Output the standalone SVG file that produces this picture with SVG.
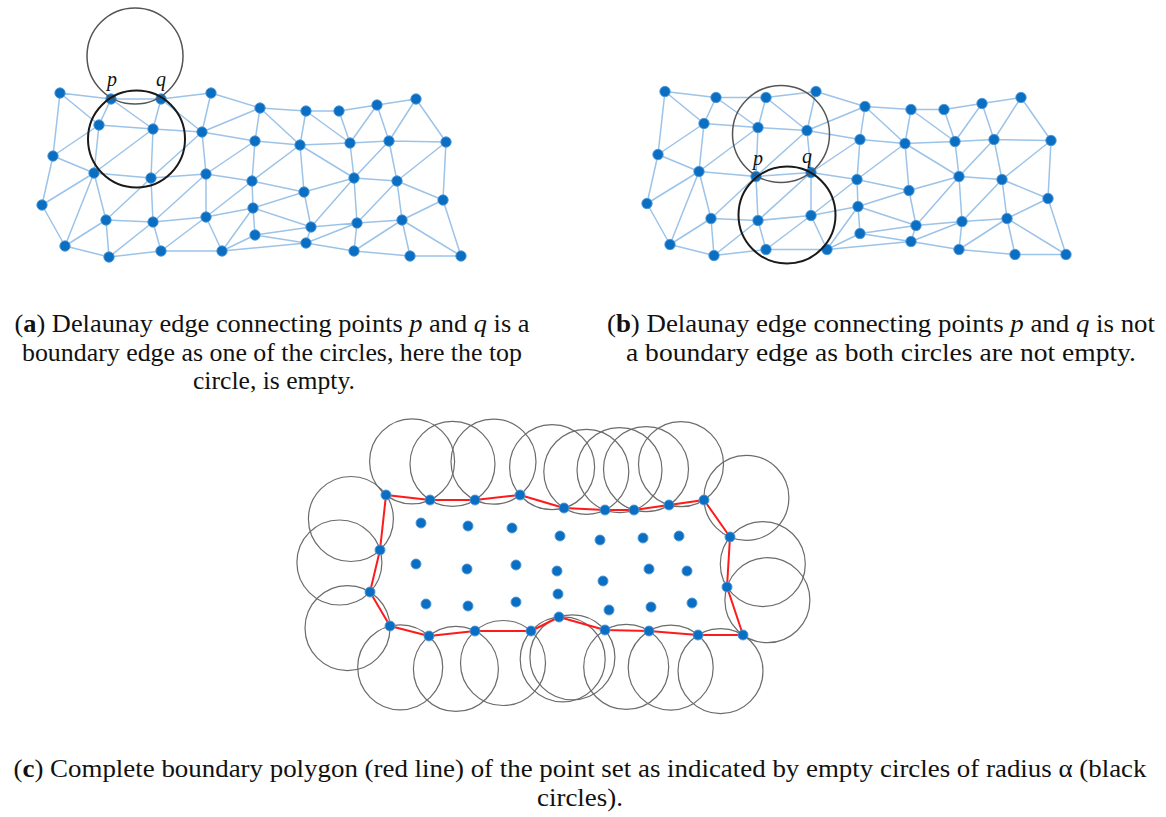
<svg xmlns="http://www.w3.org/2000/svg" width="1166" height="817" viewBox="0 0 1166 817">
<style>
.bg{fill:#ffffff}
.e{stroke:#9cc3e8;stroke-width:1.5;fill:none;stroke-linecap:round}
.n{fill:#0a6fc2;stroke:#4f98d8;stroke-width:0.9}
.ring{fill:none;stroke:#555555;stroke-width:1.5}
.ring2{fill:none;stroke:#1a1a1a;stroke-width:2}
.ac{fill:none;stroke:#6b6b6b;stroke-width:1.2}
.red{fill:none;stroke:#ff1a1a;stroke-width:2;stroke-linejoin:round}
.lbl{font-family:"Liberation Serif","Times New Roman",serif;font-style:italic;font-size:20px;fill:#111}
.cap{font-family:"Liberation Serif","Times New Roman",serif;font-size:25px;fill:#111;text-anchor:middle}
.b{font-weight:bold}
.i{font-style:italic}
</style>
<rect class="bg" x="0" y="0" width="1166" height="817"/>

<!-- ===== Panel (a) ===== -->
<g id="panel-a">
<g id="a-connectors">
<path class="e" d="M60 93L111 99M60 93L99 125M60 93L53 156M111 99L161 99M111 99L99 125M111 99L153 129M161 99L153 129M161 99L211 93M161 99L202 132M211 93L202 132M211 93L260 108M99 125L153 129M99 125L53 156M99 125L94 173M153 129L202 132M153 129L94 173M153 129L151 178M202 132L255 141M202 132L260 108M202 132L151 178M202 132L206 174M53 156L94 173M53 156L42 205M94 173L151 178M94 173L42 205M94 173L65 246M94 173L106 220M151 178L206 174M151 178L106 220M151 178L153 222M206 174L255 141M206 174L252 181M206 174L153 222M206 174L206 217M42 205L65 246M106 220L153 222M106 220L65 246M106 220L109 257M153 222L109 257M153 222L161 251M153 222L206 217M206 217L161 251M206 217L222 251M206 217L253 208M65 246L109 257M109 257L161 251M161 251L222 251M252 181L206 217M253 208L222 251M222 251L255 235M222 251L306 243"/>
<path class="e" d="M260 108L306 111M260 108L255 141M260 108L300 145M306 111L339 111M306 111L300 145M306 111L350 143M339 111L350 143M339 111L377 105M377 105L350 143M377 105L416 99M377 105L389 141M416 99L389 141M416 99L446 142M255 141L300 145M300 145L350 143M350 143L389 141M389 141L446 142M255 141L252 181M300 145L252 181M300 145L304 192M300 145L354 178M350 143L354 178M389 141L354 178M389 141L397 181M446 142L397 181M446 142L443 200M252 181L304 192M304 192L354 178M354 178L397 181M397 181L443 200M252 181L253 208M304 192L253 208M304 192L311 227M354 178L311 227M354 178L357 223M397 181L357 223M397 181L402 220M443 200L402 220M443 200L461 256M253 208L311 227M253 208L255 235M311 227L357 223M357 223L402 220M311 227L255 235M311 227L306 243M357 223L306 243M357 223L354 251M402 220L354 251M402 220L410 256M402 220L461 256M255 235L306 243M306 243L354 251M354 251L410 256M410 256L461 256"/>
</g>
<g id="a-nodes">
<g id="a-A1"><circle class="n" cx="60" cy="93" r="5.2"/></g>
<g id="a-A2"><circle class="n" cx="111" cy="99" r="5.2"/></g>
<g id="a-A3"><circle class="n" cx="161" cy="99" r="5.2"/></g>
<g id="a-A4"><circle class="n" cx="211" cy="93" r="5.2"/></g>
<g id="a-A5"><circle class="n" cx="260" cy="108" r="5.2"/></g>
<g id="a-A6"><circle class="n" cx="306" cy="111" r="5.2"/></g>
<g id="a-A7"><circle class="n" cx="339" cy="111" r="5.2"/></g>
<g id="a-A8"><circle class="n" cx="377" cy="105" r="5.2"/></g>
<g id="a-A9"><circle class="n" cx="416" cy="99" r="5.2"/></g>
<g id="a-B1"><circle class="n" cx="99" cy="125" r="5.2"/></g>
<g id="a-B2"><circle class="n" cx="153" cy="129" r="5.2"/></g>
<g id="a-B3"><circle class="n" cx="202" cy="132" r="5.2"/></g>
<g id="a-B4"><circle class="n" cx="255" cy="141" r="5.2"/></g>
<g id="a-B5"><circle class="n" cx="300" cy="145" r="5.2"/></g>
<g id="a-B6"><circle class="n" cx="350" cy="143" r="5.2"/></g>
<g id="a-B7"><circle class="n" cx="389" cy="141" r="5.2"/></g>
<g id="a-B8"><circle class="n" cx="446" cy="142" r="5.2"/></g>
<g id="a-C1"><circle class="n" cx="53" cy="156" r="5.2"/></g>
<g id="a-C2"><circle class="n" cx="94" cy="173" r="5.2"/></g>
<g id="a-C3"><circle class="n" cx="151" cy="178" r="5.2"/></g>
<g id="a-C4"><circle class="n" cx="206" cy="174" r="5.2"/></g>
<g id="a-C5"><circle class="n" cx="252" cy="181" r="5.2"/></g>
<g id="a-C6"><circle class="n" cx="304" cy="192" r="5.2"/></g>
<g id="a-C7"><circle class="n" cx="354" cy="178" r="5.2"/></g>
<g id="a-C8"><circle class="n" cx="397" cy="181" r="5.2"/></g>
<g id="a-C9"><circle class="n" cx="443" cy="200" r="5.2"/></g>
<g id="a-D1"><circle class="n" cx="42" cy="205" r="5.2"/></g>
<g id="a-D2"><circle class="n" cx="106" cy="220" r="5.2"/></g>
<g id="a-D3"><circle class="n" cx="153" cy="222" r="5.2"/></g>
<g id="a-D4"><circle class="n" cx="206" cy="217" r="5.2"/></g>
<g id="a-D5"><circle class="n" cx="253" cy="208" r="5.2"/></g>
<g id="a-D6"><circle class="n" cx="311" cy="227" r="5.2"/></g>
<g id="a-D7"><circle class="n" cx="357" cy="223" r="5.2"/></g>
<g id="a-D8"><circle class="n" cx="402" cy="220" r="5.2"/></g>
<g id="a-E1"><circle class="n" cx="65" cy="246" r="5.2"/></g>
<g id="a-E2"><circle class="n" cx="109" cy="257" r="5.2"/></g>
<g id="a-E3"><circle class="n" cx="161" cy="251" r="5.2"/></g>
<g id="a-E4"><circle class="n" cx="222" cy="251" r="5.2"/></g>
<g id="a-E5"><circle class="n" cx="255" cy="235" r="5.2"/></g>
<g id="a-E6"><circle class="n" cx="306" cy="243" r="5.2"/></g>
<g id="a-E7"><circle class="n" cx="354" cy="251" r="5.2"/></g>
<g id="a-E8"><circle class="n" cx="410" cy="256" r="5.2"/></g>
<g id="a-E9"><circle class="n" cx="461" cy="256" r="5.2"/></g>
</g>
<g id="a-circles">
<circle class="ring" cx="135" cy="56" r="48"/>
<circle class="ring2" cx="136.5" cy="139" r="48.5"/>
</g>
<text class="lbl" x="112" y="86" text-anchor="middle">p</text>
<text class="lbl" x="161" y="86" text-anchor="middle">q</text>
</g>

<!-- ===== Panel (b) ===== -->
<g id="panel-b">
<g transform="translate(605,-1.5)">
<g id="b-connectors">
<path class="e" d="M60 93L111 99M60 93L99 125M60 93L53 156M111 99L161 99M111 99L99 125M111 99L153 129M161 99L153 129M161 99L211 93M161 99L202 132M211 93L202 132M211 93L260 108M99 125L153 129M99 125L53 156M99 125L94 173M153 129L202 132M153 129L94 173M153 129L151 178M202 132L255 141M202 132L260 108M202 132L151 178M202 132L206 174M53 156L94 173M53 156L42 205M94 173L151 178M94 173L42 205M94 173L65 246M94 173L106 220M151 178L206 174M151 178L106 220M151 178L153 222M206 174L255 141M206 174L252 181M206 174L153 222M206 174L206 217M42 205L65 246M106 220L153 222M106 220L65 246M106 220L109 257M153 222L109 257M153 222L161 251M153 222L206 217M206 217L161 251M206 217L222 251M206 217L253 208M65 246L109 257M109 257L161 251M161 251L222 251M252 181L206 217M253 208L222 251M222 251L255 235M222 251L306 243"/>
<path class="e" d="M260 108L306 111M260 108L255 141M260 108L300 145M306 111L339 111M306 111L300 145M306 111L350 143M339 111L350 143M339 111L377 105M377 105L350 143M377 105L416 99M377 105L389 141M416 99L389 141M416 99L446 142M255 141L300 145M300 145L350 143M350 143L389 141M389 141L446 142M255 141L252 181M300 145L252 181M300 145L304 192M300 145L354 178M350 143L354 178M389 141L354 178M389 141L397 181M446 142L397 181M446 142L443 200M252 181L304 192M304 192L354 178M354 178L397 181M397 181L443 200M252 181L253 208M304 192L253 208M304 192L311 227M354 178L311 227M354 178L357 223M397 181L357 223M397 181L402 220M443 200L402 220M443 200L461 256M253 208L311 227M253 208L255 235M311 227L357 223M357 223L402 220M311 227L255 235M311 227L306 243M357 223L306 243M357 223L354 251M402 220L354 251M402 220L410 256M402 220L461 256M255 235L306 243M306 243L354 251M354 251L410 256M410 256L461 256"/>
</g>
<g id="b-nodes">
<g id="b-A1"><circle class="n" cx="60" cy="93" r="5.2"/></g>
<g id="b-A2"><circle class="n" cx="111" cy="99" r="5.2"/></g>
<g id="b-A3"><circle class="n" cx="161" cy="99" r="5.2"/></g>
<g id="b-A4"><circle class="n" cx="211" cy="93" r="5.2"/></g>
<g id="b-A5"><circle class="n" cx="260" cy="108" r="5.2"/></g>
<g id="b-A6"><circle class="n" cx="306" cy="111" r="5.2"/></g>
<g id="b-A7"><circle class="n" cx="339" cy="111" r="5.2"/></g>
<g id="b-A8"><circle class="n" cx="377" cy="105" r="5.2"/></g>
<g id="b-A9"><circle class="n" cx="416" cy="99" r="5.2"/></g>
<g id="b-B1"><circle class="n" cx="99" cy="125" r="5.2"/></g>
<g id="b-B2"><circle class="n" cx="153" cy="129" r="5.2"/></g>
<g id="b-B3"><circle class="n" cx="202" cy="132" r="5.2"/></g>
<g id="b-B4"><circle class="n" cx="255" cy="141" r="5.2"/></g>
<g id="b-B5"><circle class="n" cx="300" cy="145" r="5.2"/></g>
<g id="b-B6"><circle class="n" cx="350" cy="143" r="5.2"/></g>
<g id="b-B7"><circle class="n" cx="389" cy="141" r="5.2"/></g>
<g id="b-B8"><circle class="n" cx="446" cy="142" r="5.2"/></g>
<g id="b-C1"><circle class="n" cx="53" cy="156" r="5.2"/></g>
<g id="b-C2"><circle class="n" cx="94" cy="173" r="5.2"/></g>
<g id="b-C3"><circle class="n" cx="151" cy="178" r="5.2"/></g>
<g id="b-C4"><circle class="n" cx="206" cy="174" r="5.2"/></g>
<g id="b-C5"><circle class="n" cx="252" cy="181" r="5.2"/></g>
<g id="b-C6"><circle class="n" cx="304" cy="192" r="5.2"/></g>
<g id="b-C7"><circle class="n" cx="354" cy="178" r="5.2"/></g>
<g id="b-C8"><circle class="n" cx="397" cy="181" r="5.2"/></g>
<g id="b-C9"><circle class="n" cx="443" cy="200" r="5.2"/></g>
<g id="b-D1"><circle class="n" cx="42" cy="205" r="5.2"/></g>
<g id="b-D2"><circle class="n" cx="106" cy="220" r="5.2"/></g>
<g id="b-D3"><circle class="n" cx="153" cy="222" r="5.2"/></g>
<g id="b-D4"><circle class="n" cx="206" cy="217" r="5.2"/></g>
<g id="b-D5"><circle class="n" cx="253" cy="208" r="5.2"/></g>
<g id="b-D6"><circle class="n" cx="311" cy="227" r="5.2"/></g>
<g id="b-D7"><circle class="n" cx="357" cy="223" r="5.2"/></g>
<g id="b-D8"><circle class="n" cx="402" cy="220" r="5.2"/></g>
<g id="b-E1"><circle class="n" cx="65" cy="246" r="5.2"/></g>
<g id="b-E2"><circle class="n" cx="109" cy="257" r="5.2"/></g>
<g id="b-E3"><circle class="n" cx="161" cy="251" r="5.2"/></g>
<g id="b-E4"><circle class="n" cx="222" cy="251" r="5.2"/></g>
<g id="b-E5"><circle class="n" cx="255" cy="235" r="5.2"/></g>
<g id="b-E6"><circle class="n" cx="306" cy="243" r="5.2"/></g>
<g id="b-E7"><circle class="n" cx="354" cy="251" r="5.2"/></g>
<g id="b-E8"><circle class="n" cx="410" cy="256" r="5.2"/></g>
<g id="b-E9"><circle class="n" cx="461" cy="256" r="5.2"/></g>
</g>
</g>
<g id="b-circles">
<circle class="ring" cx="781" cy="134" r="48.5"/>
<circle class="ring2" cx="787" cy="215" r="48.5"/>
</g>
<text class="lbl" x="758" y="165" text-anchor="middle">p</text>
<text class="lbl" x="807" y="163" text-anchor="middle">q</text>
</g>

<!-- ===== Panel (c) ===== -->
<g id="panel-c">
<g id="c-circles">
<circle class="ac" cx="412.1" cy="461.4" r="42.5"/>
<circle class="ac" cx="452.5" cy="463.9" r="42.5"/>
<circle class="ac" cx="493.5" cy="461.7" r="42.5"/>
<circle class="ac" cx="552.1" cy="467.2" r="42.5"/>
<circle class="ac" cx="586.3" cy="471.8" r="42.5"/>
<circle class="ac" cx="619.5" cy="470.1" r="42.5"/>
<circle class="ac" cx="646.0" cy="469.2" r="42.5"/>
<circle class="ac" cx="681.0" cy="464.2" r="42.5"/>
<circle class="ac" cx="746.4" cy="497.8" r="42.5"/>
<circle class="ac" cx="762.8" cy="564.1" r="42.5"/>
<circle class="ac" cx="767.4" cy="600.2" r="42.5"/>
<circle class="ac" cx="720.5" cy="671.1" r="42.5"/>
<circle class="ac" cx="670.7" cy="667.6" r="42.5"/>
<circle class="ac" cx="626.2" cy="666.9" r="42.5"/>
<circle class="ac" cx="572.4" cy="657.3" r="42.5"/>
<circle class="ac" cx="562.7" cy="659.3" r="42.5"/>
<circle class="ac" cx="503.0" cy="663.0" r="42.5"/>
<circle class="ac" cx="455.9" cy="668.9" r="42.5"/>
<circle class="ac" cx="400.2" cy="667.3" r="42.5"/>
<circle class="ac" cx="347.5" cy="628.1" r="42.5"/>
<circle class="ac" cx="339.4" cy="562.5" r="42.5"/>
<circle class="ac" cx="350.9" cy="519.0" r="42.5"/>
</g>
<g id="c-connectors">
<polygon class="red" points="386,495 430,500 475,500 520,495 564,508 605,510 634,510 669,505 704,500 730,537 727,587 743,635 698,635 649,631 605,630 559,617 531,631 475,631 429,636 390,626 370,592 380,550"/>
</g>
<g id="c-nodes">
<g id="c-P1"><circle class="n" cx="386" cy="495" r="5"/></g>
<g id="c-P2"><circle class="n" cx="430" cy="500" r="5"/></g>
<g id="c-P3"><circle class="n" cx="475" cy="500" r="5"/></g>
<g id="c-P4"><circle class="n" cx="520" cy="495" r="5"/></g>
<g id="c-P5"><circle class="n" cx="564" cy="508" r="5"/></g>
<g id="c-P6"><circle class="n" cx="605" cy="510" r="5"/></g>
<g id="c-P7"><circle class="n" cx="634" cy="510" r="5"/></g>
<g id="c-P8"><circle class="n" cx="669" cy="505" r="5"/></g>
<g id="c-P9"><circle class="n" cx="704" cy="500" r="5"/></g>
<g id="c-P10"><circle class="n" cx="730" cy="537" r="5"/></g>
<g id="c-P11"><circle class="n" cx="727" cy="587" r="5"/></g>
<g id="c-P12"><circle class="n" cx="743" cy="635" r="5"/></g>
<g id="c-P13"><circle class="n" cx="698" cy="635" r="5"/></g>
<g id="c-P14"><circle class="n" cx="649" cy="631" r="5"/></g>
<g id="c-P15"><circle class="n" cx="605" cy="630" r="5"/></g>
<g id="c-P16"><circle class="n" cx="559" cy="617" r="5"/></g>
<g id="c-P17"><circle class="n" cx="531" cy="631" r="5"/></g>
<g id="c-P18"><circle class="n" cx="475" cy="631" r="5"/></g>
<g id="c-P19"><circle class="n" cx="429" cy="636" r="5"/></g>
<g id="c-P20"><circle class="n" cx="390" cy="626" r="5"/></g>
<g id="c-P21"><circle class="n" cx="370" cy="592" r="5"/></g>
<g id="c-P22"><circle class="n" cx="380" cy="550" r="5"/></g>
<g id="c-I1"><circle class="n" cx="421" cy="523" r="5"/></g>
<g id="c-I2"><circle class="n" cx="468" cy="526" r="5"/></g>
<g id="c-I3"><circle class="n" cx="512" cy="528" r="5"/></g>
<g id="c-I4"><circle class="n" cx="560" cy="536" r="5"/></g>
<g id="c-I5"><circle class="n" cx="600" cy="540" r="5"/></g>
<g id="c-I6"><circle class="n" cx="643" cy="538" r="5"/></g>
<g id="c-I7"><circle class="n" cx="679" cy="536" r="5"/></g>
<g id="c-I8"><circle class="n" cx="416" cy="564" r="5"/></g>
<g id="c-I9"><circle class="n" cx="467" cy="569" r="5"/></g>
<g id="c-I10"><circle class="n" cx="516" cy="565" r="5"/></g>
<g id="c-I11"><circle class="n" cx="557" cy="571" r="5"/></g>
<g id="c-I12"><circle class="n" cx="603" cy="581" r="5"/></g>
<g id="c-I13"><circle class="n" cx="649" cy="569" r="5"/></g>
<g id="c-I14"><circle class="n" cx="687" cy="571" r="5"/></g>
<g id="c-I15"><circle class="n" cx="426" cy="604" r="5"/></g>
<g id="c-I16"><circle class="n" cx="468" cy="606" r="5"/></g>
<g id="c-I17"><circle class="n" cx="516" cy="602" r="5"/></g>
<g id="c-I18"><circle class="n" cx="558" cy="594" r="5"/></g>
<g id="c-I19"><circle class="n" cx="609" cy="610" r="5"/></g>
<g id="c-I20"><circle class="n" cx="651" cy="607" r="5"/></g>
<g id="c-I21"><circle class="n" cx="692" cy="603" r="5"/></g>
</g>
</g>

<!-- ===== Captions ===== -->
<g id="captions">
<text class="cap" x="272" y="332" textLength="515" lengthAdjust="spacingAndGlyphs">(<tspan class="b">a</tspan>) Delaunay edge connecting points <tspan class="i">p</tspan> and <tspan class="i">q</tspan> is a</text>
<text class="cap" x="272" y="360.5" textLength="500" lengthAdjust="spacingAndGlyphs">boundary edge as one of the circles, here the top</text>
<text class="cap" x="274" y="389" textLength="162" lengthAdjust="spacingAndGlyphs">circle, is empty.</text>
<text class="cap" x="881" y="332" textLength="548" lengthAdjust="spacingAndGlyphs">(<tspan class="b">b</tspan>) Delaunay edge connecting points <tspan class="i">p</tspan> and <tspan class="i">q</tspan> is not</text>
<text class="cap" x="881" y="360.5" textLength="510" lengthAdjust="spacingAndGlyphs">a boundary edge as both circles are not empty.</text>
<text class="cap" x="580" y="777" textLength="1133" lengthAdjust="spacingAndGlyphs">(<tspan class="b">c</tspan>) Complete boundary polygon (red line) of the point set as indicated by empty circles of radius α (black</text>
<text class="cap" x="580" y="806" textLength="86" lengthAdjust="spacingAndGlyphs">circles).</text>
</g>
</svg>
